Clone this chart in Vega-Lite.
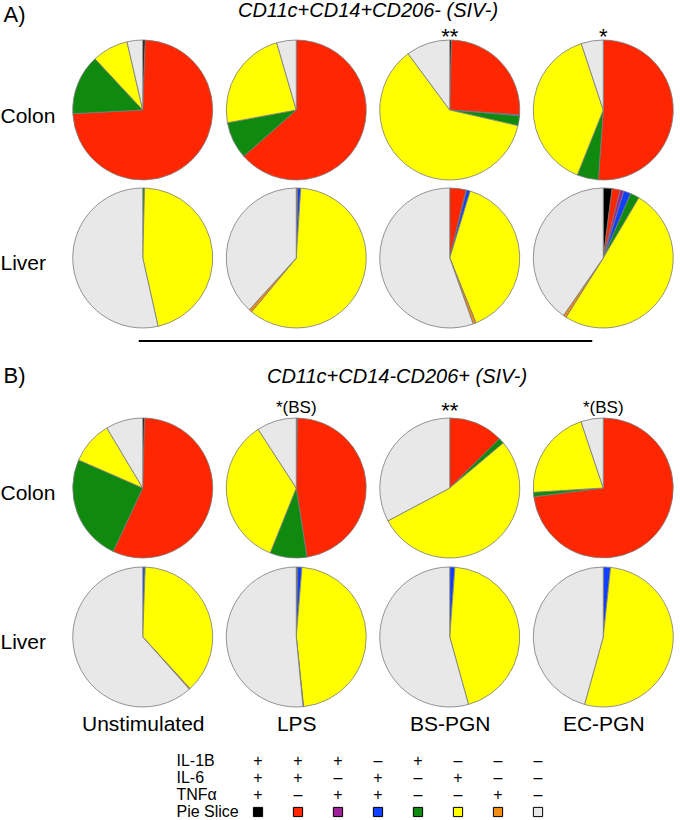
{
  "$schema": "https://vega.github.io/schema/vega-lite/v6.json",
  "padding": {"left": 0, "top": 1, "right": 0, "bottom": 0},
  "autosize": {"type": "pad"},
  "spacing": 50,
  "bounds": "flush",
  "config": {
    "font": "Liberation Sans",
    "view": {"stroke": null},
    "axis": {"ticks": false, "domain": false, "grid": false, "labelColor": "#000", "titleColor": "#000", "labelOverlap": false},
    "title": {"color": "#000"}
  },
  "datasets": {
    "legend": [
      {"s": "+++", "k": 1, "IL-1B": "+", "IL-6": "+", "TNFα": "+"},
      {"s": "++-", "k": 2, "IL-1B": "+", "IL-6": "+", "TNFα": "–"},
      {"s": "+-+", "k": 3, "IL-1B": "+", "IL-6": "–", "TNFα": "+"},
      {"s": "-++", "k": 4, "IL-1B": "–", "IL-6": "+", "TNFα": "+"},
      {"s": "+--", "k": 5, "IL-1B": "+", "IL-6": "–", "TNFα": "–"},
      {"s": "-+-", "k": 6, "IL-1B": "–", "IL-6": "+", "TNFα": "–"},
      {"s": "--+", "k": 7, "IL-1B": "–", "IL-6": "–", "TNFα": "+"},
      {"s": "---", "k": 8, "IL-1B": "–", "IL-6": "–", "TNFα": "–"}
    ],
    "ann": [
      {"p": "A", "c": "BS-PGN", "t": "Colon", "label": "**"},
      {"p": "A", "c": "EC-PGN", "t": "Colon", "label": "*"},
      {"p": "B", "c": "LPS", "t": "Colon", "label": "*(BS)"},
      {"p": "B", "c": "BS-PGN", "t": "Colon", "label": "**"},
      {"p": "B", "c": "EC-PGN", "t": "Colon", "label": "*(BS)"}
    ],
    "pies": [
      {"p": "A", "t": "Colon", "c": "Unstimulated", "s": "+++", "v": 2},
      {"p": "A", "t": "Colon", "c": "Unstimulated", "s": "++-", "v": 265},
      {"p": "A", "t": "Colon", "c": "Unstimulated", "s": "+--", "v": 50},
      {"p": "A", "t": "Colon", "c": "Unstimulated", "s": "-+-", "v": 30},
      {"p": "A", "t": "Colon", "c": "Unstimulated", "s": "---", "v": 13},
      {"p": "A", "t": "Colon", "c": "LPS", "s": "++-", "v": 228.6},
      {"p": "A", "t": "Colon", "c": "LPS", "s": "+--", "v": 30.9},
      {"p": "A", "t": "Colon", "c": "LPS", "s": "-+-", "v": 84.3},
      {"p": "A", "t": "Colon", "c": "LPS", "s": "---", "v": 16.2},
      {"p": "A", "t": "Colon", "c": "BS-PGN", "s": "+++", "v": 1.5},
      {"p": "A", "t": "Colon", "c": "BS-PGN", "s": "++-", "v": 92.5},
      {"p": "A", "t": "Colon", "c": "BS-PGN", "s": "-++", "v": 0.8},
      {"p": "A", "t": "Colon", "c": "BS-PGN", "s": "+--", "v": 8.1},
      {"p": "A", "t": "Colon", "c": "BS-PGN", "s": "-+-", "v": 220.6},
      {"p": "A", "t": "Colon", "c": "BS-PGN", "s": "---", "v": 36.5},
      {"p": "A", "t": "Colon", "c": "EC-PGN", "s": "++-", "v": 184},
      {"p": "A", "t": "Colon", "c": "EC-PGN", "s": "+--", "v": 17.8},
      {"p": "A", "t": "Colon", "c": "EC-PGN", "s": "-+-", "v": 139.9},
      {"p": "A", "t": "Colon", "c": "EC-PGN", "s": "---", "v": 18.3},
      {"p": "A", "t": "Liver", "c": "Unstimulated", "s": "+--", "v": 1.5},
      {"p": "A", "t": "Liver", "c": "Unstimulated", "s": "-+-", "v": 165.9},
      {"p": "A", "t": "Liver", "c": "Unstimulated", "s": "---", "v": 192.6},
      {"p": "A", "t": "Liver", "c": "LPS", "s": "++-", "v": 1.2},
      {"p": "A", "t": "Liver", "c": "LPS", "s": "-++", "v": 2.5},
      {"p": "A", "t": "Liver", "c": "LPS", "s": "-+-", "v": 216},
      {"p": "A", "t": "Liver", "c": "LPS", "s": "--+", "v": 2.5},
      {"p": "A", "t": "Liver", "c": "LPS", "s": "---", "v": 137.8},
      {"p": "A", "t": "Liver", "c": "BS-PGN", "s": "++-", "v": 13.5},
      {"p": "A", "t": "Liver", "c": "BS-PGN", "s": "+-+", "v": 0.5},
      {"p": "A", "t": "Liver", "c": "BS-PGN", "s": "-++", "v": 3},
      {"p": "A", "t": "Liver", "c": "BS-PGN", "s": "-+-", "v": 141},
      {"p": "A", "t": "Liver", "c": "BS-PGN", "s": "--+", "v": 2.5},
      {"p": "A", "t": "Liver", "c": "BS-PGN", "s": "---", "v": 199.5},
      {"p": "A", "t": "Liver", "c": "EC-PGN", "s": "+++", "v": 7.3},
      {"p": "A", "t": "Liver", "c": "EC-PGN", "s": "++-", "v": 6.8},
      {"p": "A", "t": "Liver", "c": "EC-PGN", "s": "+-+", "v": 3},
      {"p": "A", "t": "Liver", "c": "EC-PGN", "s": "-++", "v": 6},
      {"p": "A", "t": "Liver", "c": "EC-PGN", "s": "+--", "v": 7.5},
      {"p": "A", "t": "Liver", "c": "EC-PGN", "s": "-+-", "v": 181.6},
      {"p": "A", "t": "Liver", "c": "EC-PGN", "s": "--+", "v": 2.5},
      {"p": "A", "t": "Liver", "c": "EC-PGN", "s": "---", "v": 145.3},
      {"p": "B", "t": "Colon", "c": "Unstimulated", "s": "+++", "v": 1.5},
      {"p": "B", "t": "Colon", "c": "Unstimulated", "s": "++-", "v": 203.5},
      {"p": "B", "t": "Colon", "c": "Unstimulated", "s": "+--", "v": 88.6},
      {"p": "B", "t": "Colon", "c": "Unstimulated", "s": "-+-", "v": 35.5},
      {"p": "B", "t": "Colon", "c": "Unstimulated", "s": "---", "v": 30.9},
      {"p": "B", "t": "Colon", "c": "LPS", "s": "+++", "v": 1},
      {"p": "B", "t": "Colon", "c": "LPS", "s": "++-", "v": 170.2},
      {"p": "B", "t": "Colon", "c": "LPS", "s": "+--", "v": 30.7},
      {"p": "B", "t": "Colon", "c": "LPS", "s": "-+-", "v": 125.1},
      {"p": "B", "t": "Colon", "c": "LPS", "s": "---", "v": 33},
      {"p": "B", "t": "Colon", "c": "BS-PGN", "s": "++-", "v": 45.2},
      {"p": "B", "t": "Colon", "c": "BS-PGN", "s": "+--", "v": 4.7},
      {"p": "B", "t": "Colon", "c": "BS-PGN", "s": "-+-", "v": 192.1},
      {"p": "B", "t": "Colon", "c": "BS-PGN", "s": "---", "v": 118},
      {"p": "B", "t": "Colon", "c": "EC-PGN", "s": "++-", "v": 262.8},
      {"p": "B", "t": "Colon", "c": "EC-PGN", "s": "+--", "v": 3.7},
      {"p": "B", "t": "Colon", "c": "EC-PGN", "s": "-+-", "v": 75},
      {"p": "B", "t": "Colon", "c": "EC-PGN", "s": "---", "v": 18.5},
      {"p": "B", "t": "Liver", "c": "Unstimulated", "s": "-++", "v": 2},
      {"p": "B", "t": "Liver", "c": "Unstimulated", "s": "-+-", "v": 135.5},
      {"p": "B", "t": "Liver", "c": "Unstimulated", "s": "--+", "v": 0.8},
      {"p": "B", "t": "Liver", "c": "Unstimulated", "s": "---", "v": 221.7},
      {"p": "B", "t": "Liver", "c": "LPS", "s": "+++", "v": 1.2},
      {"p": "B", "t": "Liver", "c": "LPS", "s": "-++", "v": 3.5},
      {"p": "B", "t": "Liver", "c": "LPS", "s": "-+-", "v": 169.3},
      {"p": "B", "t": "Liver", "c": "LPS", "s": "--+", "v": 0.5},
      {"p": "B", "t": "Liver", "c": "LPS", "s": "---", "v": 185.5},
      {"p": "B", "t": "Liver", "c": "BS-PGN", "s": "-++", "v": 4.2},
      {"p": "B", "t": "Liver", "c": "BS-PGN", "s": "-+-", "v": 160.3},
      {"p": "B", "t": "Liver", "c": "BS-PGN", "s": "---", "v": 195.5},
      {"p": "B", "t": "Liver", "c": "EC-PGN", "s": "-++", "v": 6},
      {"p": "B", "t": "Liver", "c": "EC-PGN", "s": "-+-", "v": 189.5},
      {"p": "B", "t": "Liver", "c": "EC-PGN", "s": "---", "v": 164.5}
    ]
  },
  "vconcat": [
    {
      "width": 614,
      "height": 314,
      "title": {"text": "CD11c+CD14+CD206- (SIV-)", "fontStyle": "italic", "fontWeight": "normal", "fontSize": 20, "frame": "group", "anchor": "middle", "offset": -18, "dx": -5},
      "encoding": {
        "x": {"field": "c", "type": "nominal", "scale": {"type": "point", "domain": ["Unstimulated", "LPS", "BS-PGN", "EC-PGN"], "padding": 0.5}, "axis": null},
        "y": {"field": "t", "type": "nominal", "scale": {"type": "point", "domain": ["Colon", "Liver"], "padding": 0.561, "align": 0.5},
          "axis": {"title": "A)", "titleAngle": 0, "titleAlign": "left", "titleBaseline": "alphabetic", "titleX": -63, "titleY": -6, "titleFontSize": 22, "titleFontWeight": "normal",
                   "labelFontSize": 21, "labelAlign": "left", "labelPadding": 66, "labelBaseline": "middle", "labelOffset": 6}}
      },
      "layer": [
        {
          "data": {"name": "pies"},
          "transform": [
            {"filter": "datum.p === 'A'"},
            {"lookup": "s", "from": {"data": {"name": "legend"}, "key": "s", "fields": ["k"]}},
            {"stack": "v", "groupby": ["p", "t", "c"], "sort": [{"field": "k", "order": "ascending"}], "offset": "normalize", "as": ["t0", "t1"]}
          ],
          "mark": {"type": "arc", "radius": 70, "stroke": "#7a7a7a", "strokeWidth": 0.8},
          "encoding": {
            "theta": {"field": "t0", "type": "quantitative", "scale": {"domain": [0, 1]}, "stack": null},
            "theta2": {"field": "t1"},
            "color": {"field": "s", "type": "nominal", "scale": {"domain": ["+++", "++-", "+-+", "-++", "+--", "-+-", "--+", "---"], "range": ["#000000", "#ff2600", "#a0209a", "#1040ff", "#0f8a0f", "#ffff00", "#f28e14", "#e8e8e8"]}, "legend": null}
          }
        },
        {
          "data": {"name": "ann"},
          "transform": [{"filter": "datum.p === 'A'"}],
          "mark": {"type": "text", "fontSize": 22, "baseline": "alphabetic", "dy": -66, "color": "#000"},
          "encoding": {"text": {"field": "label"}}
        },
        {
          "data": {"values": [{"sep": "A/B"}]},
          "mark": {"type": "rule", "color": "#000", "strokeWidth": 2, "xOffset": -4, "x2Offset": -11},
          "encoding": {
            "x": {"datum": "Unstimulated", "type": "nominal"},
            "x2": {"datum": "EC-PGN"},
            "y": {"value": "height"}
          }
        }
      ]
    },
    {
      "width": 614,
      "height": 316,
      "title": {"text": "CD11c+CD14-CD206+ (SIV-)", "fontStyle": "italic", "fontWeight": "normal", "fontSize": 20, "frame": "group", "anchor": "middle", "offset": -23, "dx": 24},
      "encoding": {
        "x": {"field": "c", "type": "nominal", "scale": {"type": "point", "domain": ["Unstimulated", "LPS", "BS-PGN", "EC-PGN"], "padding": 0.5},
          "axis": {"orient": "bottom", "title": null, "labelFontSize": 21, "labelPadding": 6, "labelAngle": 0, "labelBaseline": "top"}},
        "y": {"field": "t", "type": "nominal", "scale": {"type": "point", "domain": ["Colon", "Liver"], "padding": 0.5604, "align": 0.5808},
          "axis": {"title": "B)", "titleAngle": 0, "titleAlign": "left", "titleBaseline": "alphabetic", "titleX": -63, "titleY": -9, "titleFontSize": 22, "titleFontWeight": "normal",
                   "labelFontSize": 21, "labelAlign": "left", "labelPadding": 66, "labelBaseline": "middle", "labelOffset": 6}}
      },
      "layer": [
        {
          "data": {"name": "pies"},
          "transform": [
            {"filter": "datum.p === 'B'"},
            {"lookup": "s", "from": {"data": {"name": "legend"}, "key": "s", "fields": ["k"]}},
            {"stack": "v", "groupby": ["p", "t", "c"], "sort": [{"field": "k", "order": "ascending"}], "offset": "normalize", "as": ["t0", "t1"]}
          ],
          "mark": {"type": "arc", "radius": 70, "stroke": "#7a7a7a", "strokeWidth": 0.8},
          "encoding": {
            "theta": {"field": "t0", "type": "quantitative", "scale": {"domain": [0, 1]}, "stack": null},
            "theta2": {"field": "t1"},
            "color": {"field": "s", "type": "nominal", "scale": {"domain": ["+++", "++-", "+-+", "-++", "+--", "-+-", "--+", "---"], "range": ["#000000", "#ff2600", "#a0209a", "#1040ff", "#0f8a0f", "#ffff00", "#f28e14", "#e8e8e8"]}, "legend": null}
          }
        },
        {
          "data": {"name": "ann"},
          "transform": [{"filter": "datum.p === 'B' && datum.label === '**'"}],
          "mark": {"type": "text", "fontSize": 22, "baseline": "alphabetic", "dy": -70, "color": "#000"},
          "encoding": {"text": {"field": "label"}}
        },
        {
          "data": {"name": "ann"},
          "transform": [{"filter": "datum.p === 'B' && datum.label !== '**'"}],
          "mark": {"type": "text", "fontSize": 17, "baseline": "alphabetic", "dy": -75, "color": "#000"},
          "encoding": {"text": {"field": "label"}}
        }
      ]
    },
    {
      "width": 614,
      "height": 63,
      "data": {"name": "legend"},
      "encoding": {
        "x": {"field": "k", "type": "quantitative", "scale": {"domain": [-3.8, 11.55], "nice": false, "zero": false}, "axis": null}
      },
      "layer": [
        {
          "transform": [{"fold": ["IL-1B", "IL-6", "TNFα"], "as": ["row", "sign"]}],
          "mark": {"type": "text", "fontSize": 16, "baseline": "middle", "color": "#000"},
          "encoding": {
            "y": {"field": "row", "type": "nominal", "scale": {"type": "point", "domain": ["IL-1B", "IL-6", "TNFα", "Pie Slice"], "padding": 0.353, "align": 0.333},
              "axis": {"title": null, "labelFontSize": 16, "labelAlign": "left", "labelPadding": -110, "labelBaseline": "middle"}},
            "text": {"field": "sign"}
          }
        },
        {
          "mark": {"type": "point", "shape": "square", "filled": true, "size": 85, "stroke": "#000", "strokeWidth": 1, "opacity": 1},
          "encoding": {
            "y": {"datum": "Pie Slice", "type": "nominal"},
            "fill": {"field": "s", "type": "nominal", "scale": {"domain": ["+++", "++-", "+-+", "-++", "+--", "-+-", "--+", "---"], "range": ["#000000", "#ff2600", "#a0209a", "#1040ff", "#0f8a0f", "#ffff00", "#f28e14", "#e8e8e8"]}, "legend": null}
          }
        }
      ]
    }
  ]
}
